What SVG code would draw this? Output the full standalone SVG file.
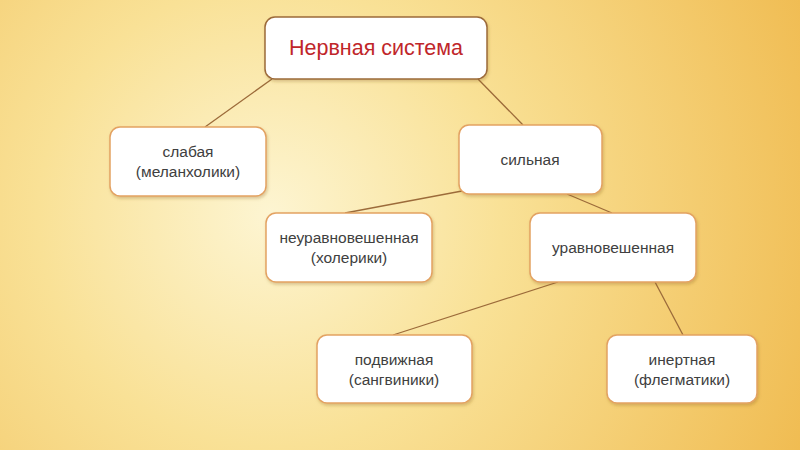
<svg xmlns="http://www.w3.org/2000/svg" width="800" height="450" viewBox="0 0 800 450">
<defs>
<radialGradient id="bg" cx="270" cy="215" r="580" gradientUnits="userSpaceOnUse">
<stop offset="0" stop-color="#fdf5d2"/>
<stop offset="0.4" stop-color="#f9e196"/>
<stop offset="1" stop-color="#f0bc52"/>
</radialGradient>
<filter id="sh" x="-10%" y="-10%" width="125%" height="130%">
<feDropShadow dx="1" dy="2" stdDeviation="1.5" flood-color="#8a6020" flood-opacity="0.3"/>
</filter>
</defs>
<style>
.box{fill:#ffffff;stroke:#e3a262;stroke-width:1.5;filter:url(#sh)}
.root{fill:#ffffff;stroke:#9c6b3a;stroke-width:1.5;filter:url(#sh)}
.t{font-family:"Liberation Sans",Arial,sans-serif;font-size:15.5px;fill:#404040;text-anchor:middle}
.rt{font-family:"Liberation Sans",Arial,sans-serif;font-size:21.5px;fill:#c0262a;text-anchor:middle}
.c line{stroke:#9c6b3a;stroke-width:1.3}
</style>
<rect width="800" height="450" fill="url(#bg)"/>
<g id="connectors" class="c">
<line x1="272" y1="79" x2="205" y2="127"/>
<line x1="478" y1="79" x2="523" y2="125"/>
<line x1="462" y1="191" x2="345" y2="213"/>
<line x1="567" y1="194" x2="612" y2="213"/>
<line x1="558" y1="282" x2="393" y2="335"/>
<line x1="655" y1="282" x2="683" y2="335"/>
</g>
<g id="n-root">
<rect class="root" x="265" y="17" width="222" height="62" rx="10"/>
<text class="rt" x="376" y="55">Нервная система</text>
</g>
<g id="n-weak">
<rect class="box" x="110" y="127" width="156" height="69" rx="10"/>
<text class="t" x="188" y="157">слабая</text>
<text class="t" x="188" y="177">(меланхолики)</text>
</g>
<g id="n-strong">
<rect class="box" x="459" y="125" width="143" height="69" rx="10"/>
<text class="t" x="530" y="165">сильная</text>
</g>
<g id="n-unbal">
<rect class="box" x="266" y="213" width="166" height="69" rx="10"/>
<text class="t" x="349" y="243">неуравновешенная</text>
<text class="t" x="349" y="263">(холерики)</text>
</g>
<g id="n-bal">
<rect class="box" x="530" y="213" width="166" height="69" rx="10"/>
<text class="t" x="613" y="253">уравновешенная</text>
</g>
<g id="n-mobile">
<rect class="box" x="317" y="335" width="155" height="68" rx="10"/>
<text class="t" x="394" y="365">подвижная</text>
<text class="t" x="394" y="385">(сангвиники)</text>
</g>
<g id="n-inert">
<rect class="box" x="607" y="335" width="150" height="68" rx="10"/>
<text class="t" x="682" y="365">инертная</text>
<text class="t" x="682" y="385">(флегматики)</text>
</g>
</svg>
